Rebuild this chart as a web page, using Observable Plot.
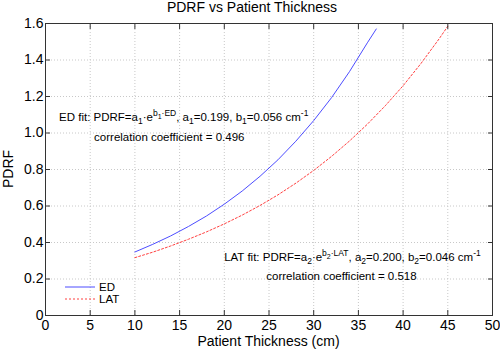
<!DOCTYPE html>
<html>
<head>
<meta charset="utf-8">
<script src="https://cdn.jsdelivr.net/npm/d3@7"></script>
<script src="https://cdn.jsdelivr.net/npm/@observablehq/plot@0.6"></script>
<style>
  html, body { margin: 0; padding: 0; background: #fff; }
  svg { font-family: "Liberation Sans", Arial, Helvetica, sans-serif; }
</style>
</head>
<body>
<div id="chart"></div>
<script>
// Values
const edThickness  = [10, 12, 14, 16, 18, 20, 22, 24, 26, 28, 30, 32, 34, 36, 37];
const edPDRF       = [0.348, 0.390, 0.436, 0.488, 0.545, 0.610, 0.682, 0.763, 0.853, 0.955, 1.068, 1.194, 1.336, 1.494, 1.570];
const latThickness = [10, 12, 14, 16, 18, 20, 22, 24, 26, 28, 30, 32, 34, 36, 38, 40, 42, 44, 45];
const latPDRF      = [0.317, 0.347, 0.381, 0.418, 0.458, 0.502, 0.550, 0.603, 0.661, 0.725, 0.795, 0.872, 0.956, 1.048, 1.149, 1.259, 1.381, 1.514, 1.585];
const xTicks = [0, 5, 10, 15, 20, 25, 30, 35, 40, 45, 50];
const yTicks = [0, 0.2, 0.4, 0.6, 0.8, 1.0, 1.2, 1.4, 1.6];
const seriesNames = ["ED", "LAT"];
const titleText = "PDRF vs Patient Thickness";
const xLabel = "Patient Thickness (cm)";
const yLabel = "PDRF";

const ed = edThickness.map((x, i) => ({x, y: edPDRF[i]}));
const lat = latThickness.map((x, i) => ({x, y: latPDRF[i]}));

const W = 500, H = 353;
const mL = 45, mR = 8, mT = 23, mB = 38;
const axisColor = "#333";
const fmtY = d => d === 0 ? "0" : d.toFixed(1);

const chart = Plot.plot({
  width: W, height: H,
  marginLeft: mL, marginRight: mR, marginTop: mT, marginBottom: mB,
  style: {fontFamily: '"Liberation Sans", Arial, Helvetica, sans-serif', background: "#fff"},
  x: {domain: [0, 50]},
  y: {domain: [0, 1.6]},
  marks: [
    Plot.gridX(xTicks, {stroke: "#c8c8c8", strokeOpacity: 1, strokeDasharray: "1,2"}),
    Plot.gridY(yTicks, {stroke: "#c8c8c8", strokeOpacity: 1, strokeDasharray: "1,2"}),
    Plot.line(ed, {x: "x", y: "y", stroke: "#4d4dff", strokeWidth: 1}),
    Plot.line(lat, {x: "x", y: "y", stroke: "#ff4040", strokeWidth: 1, strokeDasharray: "2,2"}),
    Plot.axisX(xTicks, {anchor: "bottom", tickSize: -5, tickPadding: 10, fontSize: 14, fill: "#000", stroke: axisColor, label: null}),
    Plot.axisX(xTicks, {anchor: "top", tickSize: -5, tickFormat: () => "", stroke: axisColor, label: null}),
    Plot.axisY(yTicks, {anchor: "left", tickSize: -5, tickPadding: 7, tickFormat: fmtY, fontSize: 14, fill: "#000", stroke: axisColor, label: null}),
    Plot.axisY(yTicks, {anchor: "right", tickSize: -5, tickFormat: () => "", stroke: axisColor, label: null}),
    Plot.frame({stroke: axisColor})
  ]
});

const svg = d3.select(chart);
const sx = chart.scale("x"), sy = chart.scale("y");
const font = '"Liberation Sans", Arial, Helvetica, sans-serif';

// Title
svg.append("text").attr("x", 252).attr("y", 12)
  .attr("text-anchor", "middle").attr("font-size", 14).attr("font-family", font)
  .attr("fill", "#000").text(titleText);
// X label
svg.append("text").attr("x", (mL + W - mR) / 2).attr("y", H - 7)
  .attr("text-anchor", "middle").attr("font-size", 14).attr("font-family", font)
  .attr("fill", "#000").text(xLabel);
// Y label
svg.append("text").attr("transform", `translate(13,${(mT + H - mB) / 2}) rotate(-90)`)
  .attr("text-anchor", "middle").attr("font-size", 14).attr("font-family", font)
  .attr("fill", "#000").text(yLabel);

// Rich text annotations (level: 0 normal, -1 subscript, 1 superscript, 2 subscript within superscript)
const offsets = {"0": 0, "-1": 3, "1": -5, "2": -2};
const sizes = {"0": 11.5, "-1": 8.5, "1": 8.5, "2": 7};
function richText(x, y, segs) {
  const t = svg.append("text").attr("x", x).attr("y", y).attr("text-anchor", "start")
    .attr("font-family", font).attr("fill", "#000").attr("font-size", 11.5);
  let prev = 0;
  for (const [txt, lvl] of segs) {
    t.append("tspan").attr("dy", offsets[lvl] - offsets[prev])
      .attr("font-size", sizes[lvl]).text(txt);
    prev = lvl;
  }
}
richText(sx.apply(1.57), sy.apply(1.061), [
  ["ED fit: PDRF=a", 0], ["1", -1], ["\u00b7e", 0], ["b", 1], ["1", 2], ["\u00b7ED", 1],
  [", a", 0], ["1", -1], ["=0.199, b", 0], ["1", -1], ["=0.056 cm", 0], ["-1", 1]
]);
richText(sx.apply(5.49), sy.apply(0.951), [["correlation coefficient = 0.496", 0]]);
richText(sx.apply(20.04), sy.apply(0.297), [
  ["LAT fit: PDRF=a", 0], ["2", -1], ["\u00b7e", 0], ["b", 1], ["2", 2], ["\u00b7LAT", 1],
  [", a", 0], ["2", -1], ["=0.200, b", 0], ["2", -1], ["=0.046 cm", 0], ["-1", 1]
]);
richText(sx.apply(24.75), sy.apply(0.192), [["correlation coefficient = 0.518", 0]]);

// Legend (inside axes, lower-left, no box)
const legendStyles = [
  {stroke: "#4d4dff", dash: null},
  {stroke: "#ff4040", dash: "2,2"}
];
seriesNames.forEach((name, i) => {
  const y = 287 + i * 12;
  svg.append("line").attr("x1", 65).attr("x2", 95).attr("y1", y).attr("y2", y)
    .attr("stroke", legendStyles[i].stroke).attr("stroke-width", 1)
    .attr("stroke-dasharray", legendStyles[i].dash);
  svg.append("text").attr("x", 99).attr("y", y + 4).attr("font-size", 11.5)
    .attr("text-anchor", "start")
    .attr("font-family", font).attr("fill", "#000").text(name);
});

document.getElementById("chart").appendChild(chart);
</script>
</body>
</html>
